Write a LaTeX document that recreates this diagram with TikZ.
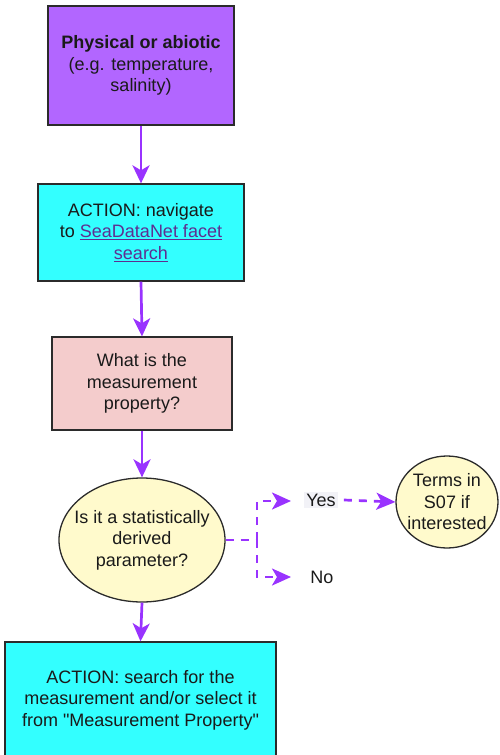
\documentclass[tikz,border=0pt]{standalone}
\usepackage{fontspec}
\setmainfont{Liberation Sans}[Ligatures=TeXOff]
\usetikzlibrary{arrows.meta,shapes.geometric}
\definecolor{flow}{HTML}{9933FF}
\definecolor{abiotic}{HTML}{B266FF}
\definecolor{action}{HTML}{33FFFF}
\definecolor{question}{HTML}{F4CCCC}
\definecolor{decision}{HTML}{FFFACC}
\definecolor{edge}{HTML}{2B2B2B}
\definecolor{ink}{HTML}{1A1A1A}
\definecolor{linkc}{HTML}{5E2E91}
\definecolor{tagbg}{HTML}{F2F2F7}
\tikzset{
  every node/.style={font=\fontsize{18}{21.5}\selectfont, text=ink, align=center, inner sep=0pt},
  boxnode/.style={draw=edge, line width=1.3pt, rectangle},
  roundnode/.style={draw=edge, line width=1.3pt, ellipse, fill=decision},
  flowline/.style={draw=flow, line width=2.7pt, -{Stealth[length=18pt,width=17pt,inset=5pt]}},
  optline/.style={draw=flow, line width=2.7pt, dash pattern=on 8pt off 7pt},
  optarrow/.style={optline, -{Stealth[length=19pt,width=17pt,inset=5pt]}},
}
\newcommand{\weblink}[1]{\textcolor{linkc}{\underline{#1}}}
\begin{document}
\begin{tikzpicture}[x=1pt,y=-1pt]
\useasboundingbox (0,0) rectangle (499,755);
\begin{scope}
\clip (0,0) rectangle (499,755);
\node[boxnode, fill=abiotic, minimum width=186pt, minimum height=119pt] (phys) at (141,65.5)
  {\textbf{Physical or abiotic}\\(e.g. temperature,\\salinity)};
\node[boxnode, fill=action, minimum width=206pt, minimum height=97pt] (nav) at (141,232.5)
  {ACTION: navigate\\to \weblink{SeaDataNet facet}\\\weblink{search}};
\node[boxnode, fill=question, minimum width=180pt, minimum height=93pt] (prop) at (142,383.5)
  {What is the\\measurement\\property?};
\node[roundnode, minimum width=166pt, minimum height=124pt] (stat) at (142,540) {};
\node (stattext) at (stat.center) {Is it a statistically\\derived\\parameter?};
\node[roundnode, minimum width=102pt, minimum height=92pt] (s07) at (447,502) {};
\node (s07text) at (s07.center) {Terms in\\S07 if\\interested};
\node[boxnode, fill=action, minimum width=271pt, minimum height=116pt] (search) at (140.5,700)
  {ACTION: search for the\\measurement and/or select it\\from "Measurement Property"};
\node[fill=tagbg, inner sep=2pt] (yes) at (321,500) {Yes};
\node (no) at (322,577) {No};
\coordinate (fork) at (257,540);
\coordinate (yesin) at (291,501);
\coordinate (noin) at (291,577);

\draw[flowline] (phys.south) -- (nav.north);
\draw[flowline] (nav.south) -- (prop.north);
\draw[flowline] (prop.south) -- (stat.north);
\draw[flowline] (stat.south) -- (search.north);
\draw[optline] (stat.east) -- (fork);
\draw[optarrow] (fork) |- (yesin);
\draw[optarrow] (fork) |- (noin);
\draw[optarrow] ([xshift=6pt]yes.east) -- (s07.west);
\end{scope}
\end{tikzpicture}
\end{document}
